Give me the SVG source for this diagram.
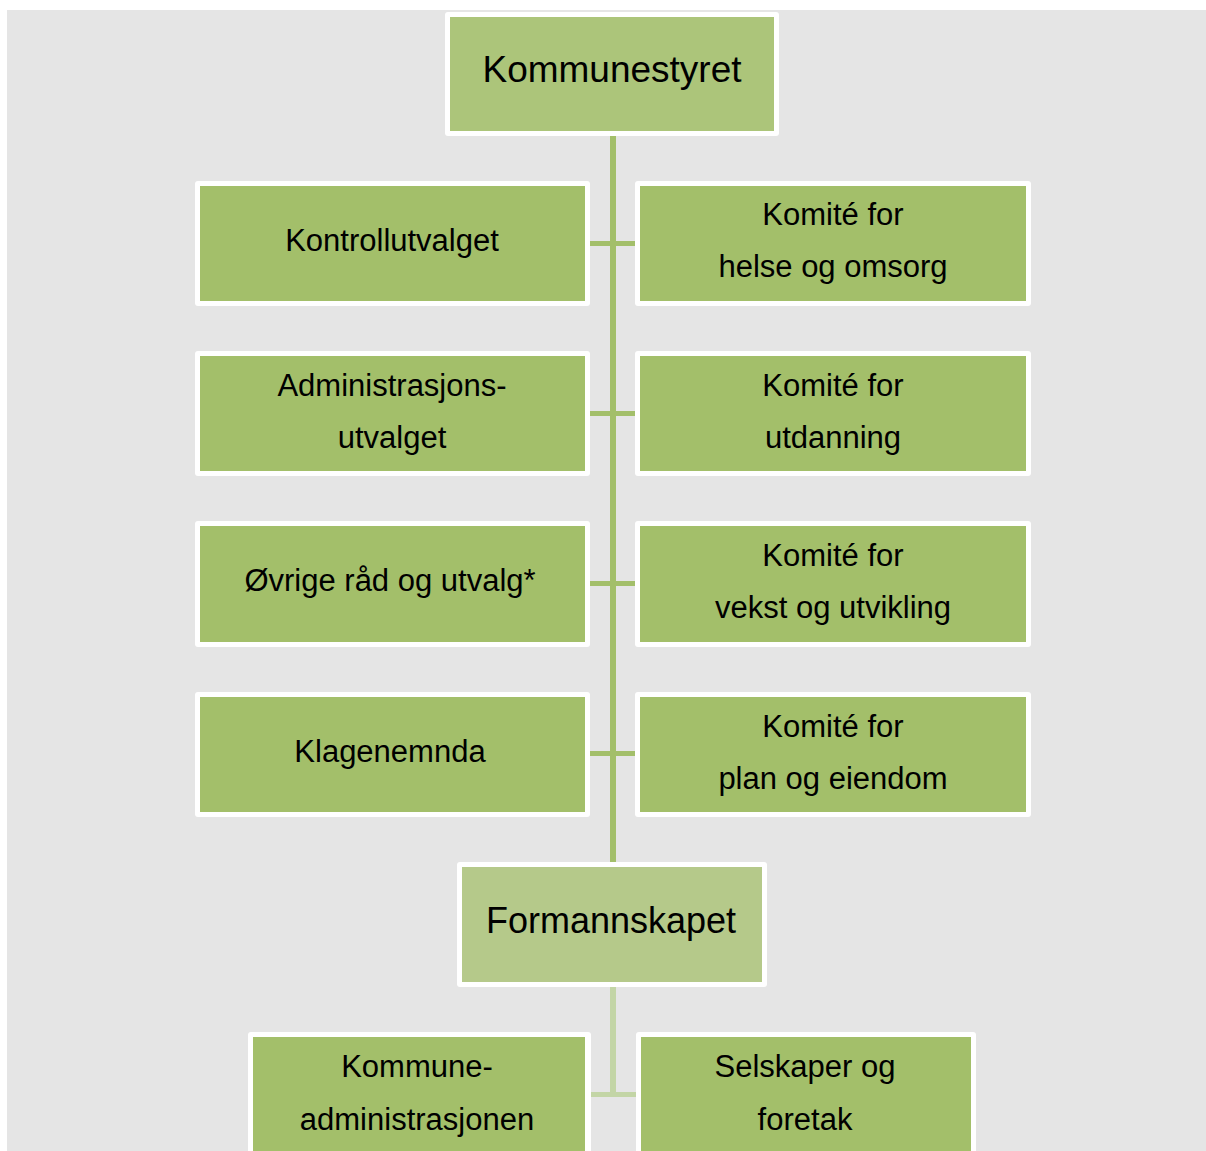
<svg xmlns="http://www.w3.org/2000/svg" width="1206" height="1151" viewBox="0 0 1206 1151">
<style>
.frame{fill:#ffffff}
.box{fill:#a3bf6a}
.top{fill:#acc57a}
.mid{fill:#b5c98a}
.lbl{font-family:"Liberation Sans",Arial,sans-serif;font-size:31px;fill:#000;text-anchor:middle}
.big{font-size:37px}
.line{fill:#a3bf6a}
.line2{fill:#c3d5a6}
</style>
<rect x="0" y="0" width="1206" height="1151" fill="#ffffff"/>
<rect x="7" y="10" width="1199" height="1141" fill="#e5e5e5"/>
<g id="connectors">
<rect class="line" x="610" y="134" width="6" height="730"/>
<rect class="line" x="588" y="241" width="50" height="5"/>
<rect class="line" x="588" y="411" width="50" height="5"/>
<rect class="line" x="588" y="581" width="50" height="5"/>
<rect class="line" x="588" y="751" width="50" height="5"/>
<rect class="line2" x="610" y="985" width="6" height="112"/>
<rect class="line2" x="589" y="1092" width="48" height="5"/>
</g>
<g id="kommunestyret">
<rect class="frame" x="445" y="12" width="334" height="124" rx="3"/>
<rect class="top" x="450" y="17" width="324" height="114"/>
<text class="lbl big" x="612" y="82">Kommunestyret</text>
</g>
<g id="kontrollutvalget">
<rect class="frame" x="195" y="181" width="395" height="125" rx="3"/>
<rect class="box" x="200" y="186" width="385" height="115"/>
<text class="lbl" x="392" y="251">Kontrollutvalget</text>
</g>
<g id="komite-helse">
<rect class="frame" x="635" y="181" width="396" height="125" rx="3"/>
<rect class="box" x="640" y="186" width="386" height="115"/>
<text class="lbl" x="833" y="225">Komité for</text>
<text class="lbl" x="833" y="277">helse og omsorg</text>
</g>
<g id="administrasjonsutvalget">
<rect class="frame" x="195" y="351" width="395" height="125" rx="3"/>
<rect class="box" x="200" y="356" width="385" height="115"/>
<text class="lbl" x="392" y="396">Administrasjons-</text>
<text class="lbl" x="392" y="448">utvalget</text>
</g>
<g id="komite-utdanning">
<rect class="frame" x="635" y="351" width="396" height="125" rx="3"/>
<rect class="box" x="640" y="356" width="386" height="115"/>
<text class="lbl" x="833" y="396">Komité for</text>
<text class="lbl" x="833" y="448">utdanning</text>
</g>
<g id="ovrige">
<rect class="frame" x="195" y="521" width="395" height="126" rx="3"/>
<rect class="box" x="200" y="526" width="385" height="116"/>
<text class="lbl" x="390" y="591">Øvrige råd og utvalg*</text>
</g>
<g id="komite-vekst">
<rect class="frame" x="635" y="521" width="396" height="126" rx="3"/>
<rect class="box" x="640" y="526" width="386" height="116"/>
<text class="lbl" x="833" y="566">Komité for</text>
<text class="lbl" x="833" y="618">vekst og utvikling</text>
</g>
<g id="klagenemnda">
<rect class="frame" x="195" y="692" width="395" height="125" rx="3"/>
<rect class="box" x="200" y="697" width="385" height="115"/>
<text class="lbl" x="390" y="762">Klagenemnda</text>
</g>
<g id="komite-plan">
<rect class="frame" x="635" y="692" width="396" height="125" rx="3"/>
<rect class="box" x="640" y="697" width="386" height="115"/>
<text class="lbl" x="833" y="737">Komité for</text>
<text class="lbl" x="833" y="789">plan og eiendom</text>
</g>
<g id="formannskapet">
<rect class="frame" x="457" y="862" width="310" height="125" rx="3"/>
<rect class="mid" x="462" y="867" width="300" height="115"/>
<text class="lbl" x="611" y="933" style="font-size:36px">Formannskapet</text>
</g>
<g id="kommuneadministrasjonen">
<rect class="frame" x="248" y="1032" width="343" height="130" rx="3"/>
<rect class="box" x="253" y="1037" width="332" height="125"/>
<text class="lbl" x="417" y="1077">Kommune-</text>
<text class="lbl" x="417" y="1130">administrasjonen</text>
</g>
<g id="selskaper">
<rect class="frame" x="636" y="1032" width="340" height="130" rx="3"/>
<rect class="box" x="641" y="1037" width="330" height="125"/>
<text class="lbl" x="805" y="1077">Selskaper og</text>
<text class="lbl" x="805" y="1130">foretak</text>
</g>
</svg>
